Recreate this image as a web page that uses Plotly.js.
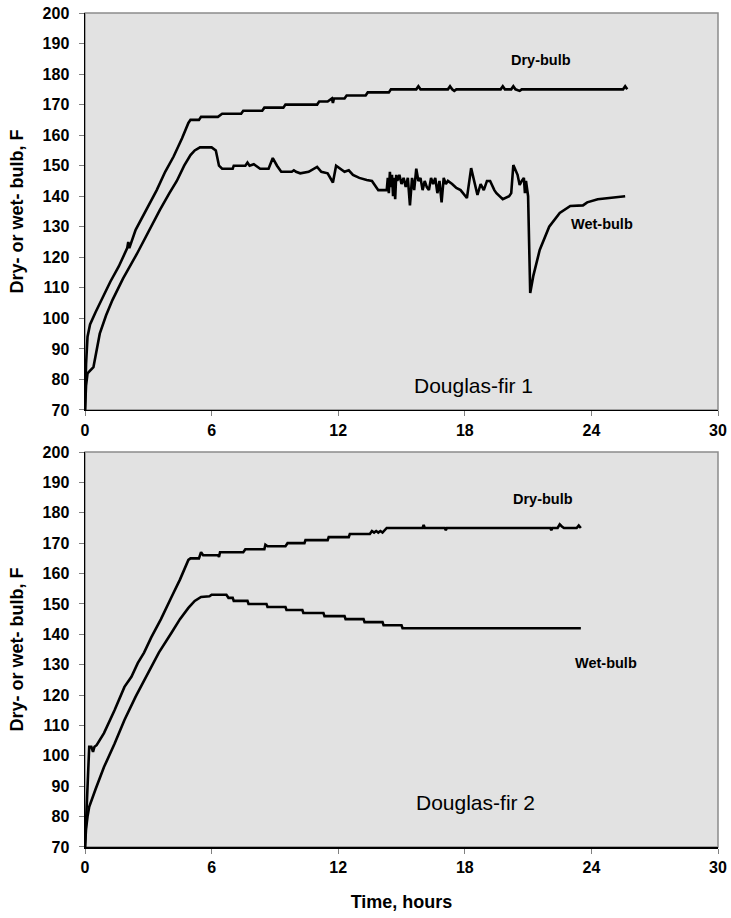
<!DOCTYPE html>
<html><head><meta charset="utf-8">
<script src="https://cdn.plot.ly/plotly-3.0.1.min.js"></script>
<style>body{margin:0;padding:0;background:#fff}#chart{width:731px;height:918px}</style>
</head><body><div id="chart"></div>
<script>
// ---- Douglas-fir 1 ----
const df1DryX = [0,0.05,0.12,0.24,0.5,0.85,1.2,1.6,2.0,2.05,2.1,2.4,2.7,3.0,3.4,3.8,4.2,4.6,4.9,5.0,5.4,5.5,6.3,6.5,7.4,7.5,8.4,8.5,9.4,9.5,11.0,11.1,11.5,11.7,11.75,11.8,12.3,12.4,13.3,13.4,14.4,14.5,15.7,15.8,15.9,17.2,17.3,17.4,17.5,17.6,19.7,19.8,19.9,20.2,20.3,20.4,20.6,20.7,25.5,25.6,25.7];
const df1DryY = [70,85,94,98,102,107,112,117,123,125,123,129,133,137,142,148,153,159,164,165,165,166,166,167,167,168,168,169,169,170,170,171,171,172,170.5,172,172,173,173,174,174,175,175,176,175,175,176,175,174.5,175,175,176,175,175,176,175,174.5,175,175,176,175];
const df1WetX = [0,0.05,0.12,0.24,0.4,0.7,1.0,1.3,1.8,2.45,3.0,3.55,4.0,4.35,4.7,5.0,5.2,5.45,6.0,6.2,6.35,6.5,7.0,7.05,7.6,7.7,7.8,8.0,8.1,8.3,8.7,8.9,9.1,9.3,9.8,9.9,10.0,10.2,10.6,11.0,11.2,11.5,11.75,11.9,12.3,12.5,12.7,13.0,13.35,13.6,13.9,14.3,14.35,14.4,14.45,14.5,14.55,14.6,14.65,14.7,14.75,14.8,14.9,15.0,15.1,15.2,15.3,15.4,15.5,15.6,15.7,15.8,15.9,16.0,16.1,16.2,16.3,16.4,16.5,16.6,16.7,16.8,16.9,17.0,17.1,17.2,17.4,17.6,17.8,18.1,18.3,18.5,18.6,18.75,18.9,19.05,19.2,19.4,19.5,19.8,20.1,20.2,20.3,20.5,20.6,20.7,20.8,20.85,20.9,21.0,21.1,21.25,21.55,22.0,22.5,23.0,23.6,23.8,24.3,25.6];
const df1WetY = [70,78,82,83,84,95,101,106,113,121,128.5,135.5,141,145,150,153.5,155,156,156,155,150,149,149,150,150,151,150,150.5,150,149,149,152.5,150,148,148,148.5,148,147.5,148,149.6,148,147.5,144.5,150,148,148.5,147,146,145.3,145,142,142,146,141,148,143,147,140,146,139,147,145,147,144,146,143,146,137,146,142,149,145,146,142,145,143,142,146,144,146,141,145,138,146,144,145,144,142.7,142,139.4,149.2,143,140.4,144,142,145,145,142,141,139,140,141,150.2,147,143.7,145,146,141,145,140,108.3,114,122.4,130,134.5,136.8,137,138,139,140,140];
// ---- Douglas-fir 2 ----
const df2DryX = [0,0.1,0.2,0.3,0.38,0.45,0.55,0.9,1.4,1.87,2.2,2.5,2.8,3.14,3.6,4.1,4.5,4.9,5.0,5.4,5.5,5.6,6.3,6.35,6.4,7.5,7.55,7.6,8.5,8.55,8.65,9.5,9.6,10.4,10.45,11.5,11.55,12.5,12.55,13.5,13.6,13.7,13.8,13.9,14.0,14.1,14.3,16.0,16.05,16.1,17.05,17.1,17.15,22.05,22.1,22.15,22.4,22.5,22.6,22.7,23.3,23.4,23.5];
const df2DryY = [70,90,103,103,101.3,103,103.5,107.5,115,122.7,126,130.5,134,139,145,152.3,158,164.5,165,165,167,166,166,165.5,167,167,167.6,168,168,169.5,169,169,170,170,171,171,172,172,173,173,174,173.5,174,173.5,174,173.5,175,175,176,175,175,174.3,175,175,174.3,175,175,176.2,175.5,175,175,175.8,175];
const df2WetX = [0,0.05,0.12,0.2,0.5,0.9,1.4,1.87,2.4,3.0,3.5,4.1,4.5,4.9,5.2,5.5,5.9,6.0,6.7,6.8,7.0,7.05,7.7,7.75,8.6,8.65,9.5,9.55,10.3,10.35,11.3,11.35,12.3,12.35,13.2,13.25,14.1,14.15,15.0,15.05,23.5];
const df2WetY = [70,76,80,83.2,89,96.3,104,111.8,119.5,127.3,134,140.5,145,148.7,151,152.3,152.5,153,153,152,152,151,151,150,150,149,149,148,148,147,147,146,146,145,145,144,144,143,143,142,142];
// ---- axes / labels ----
const xTicks = [0,6,12,18,24,30];
const yTicks = [70,80,90,100,110,120,130,140,150,160,170,180,190,200];
const seriesNames = ['Dry-bulb','Wet-bulb'];
const panelNames = ['Douglas-fir 1','Douglas-fir 2'];
const yTitle = 'Dry- or wet- bulb, F';
const xTitle = 'Time, hours';

const FONT = 'Liberation Sans, Arial, sans-serif';
const lineStyle = {color:'#000000', width:2.6};
function tr(x,y,name,xa,ya){return {x:x,y:y,name:name,xaxis:xa,yaxis:ya,type:'scatter',mode:'lines',line:lineStyle,hoverinfo:'skip',showlegend:false};}
const data = [
  tr(df1DryX,df1DryY,seriesNames[0],'x','y'),
  tr(df1WetX,df1WetY,seriesNames[1],'x','y'),
  tr(df2DryX,df2DryY,seriesNames[0],'x2','y2'),
  tr(df2WetX,df2WetY,seriesNames[1],'x2','y2')
];
const tickFont = {family:FONT,size:16,color:'#000000',weight:'bold'};
const titleFont = {family:FONT,size:18,weight:'bold',color:'#000'};
const labelFont = {family:FONT,size:14.5,weight:'bold',color:'#000'};
const panelFont = {family:FONT,size:21,color:'#000'};
function xax(anchor){return {domain:[0,1],anchor:anchor,range:[0,30],tickvals:xTicks,ticktext:xTicks.map(String),ticks:'outside',ticklen:5,tickcolor:'#808080',tickwidth:1,showline:true,linecolor:'#000000',linewidth:1.5,showgrid:false,zeroline:false,tickfont:tickFont,fixedrange:true};}
function yax(anchor,dom){return {domain:dom,anchor:anchor,range:[70,200],tickvals:yTicks,ticks:'outside',ticklen:5,tickcolor:'#808080',tickwidth:1,showline:true,linecolor:'#000000',linewidth:1.5,showgrid:false,zeroline:false,tickfont:tickFont,ticklabelstandoff:6,fixedrange:true};}
function ovx(anchor,over){return {overlaying:over,anchor:anchor,range:[0,30],tickvals:xTicks,ticks:'inside',ticklen:5,tickcolor:'#808080',tickwidth:1,showticklabels:false,showgrid:false,zeroline:false,showline:false,fixedrange:true};}
function ovy(anchor,over){return {overlaying:over,anchor:anchor,range:[70,200],tickvals:yTicks,ticks:'inside',ticklen:5,tickcolor:'#808080',tickwidth:1,showticklabels:false,showgrid:false,zeroline:false,showline:false,fixedrange:true};}
const topDom=[0.524,1], botDom=[0,0.4736];
function yTitleAnn(yref){return {xref:'paper',yref:yref,x:0,y:0.5,xanchor:'center',yanchor:'middle',xshift:-68,textangle:-90,text:yTitle,showarrow:false,font:titleFont};}
const layout = {
  width:731,height:918,
  margin:{l:85,r:13,t:13,b:71},
  paper_bgcolor:'#ffffff',plot_bgcolor:'#e2e2e2',
  font:{family:FONT,color:'#000'},
  xaxis:xax('y'),
  yaxis:yax('x',topDom),
  xaxis2:Object.assign(xax('y2'),{title:{text:xTitle,font:titleFont,standoff:20}}),
  yaxis2:yax('x2',botDom),
  xaxis3:ovx('y','x'), yaxis3:Object.assign(ovy('x','y'),{domain:topDom}),
  xaxis4:ovx('y2','x2'), yaxis4:Object.assign(ovy('x2','y2'),{domain:botDom}),
  shapes:[
    {type:'rect',xref:'x domain',yref:'y domain',x0:0,x1:1,y0:0,y1:1,line:{color:'#8c8c8c',width:1.5},layer:'below'},
    {type:'rect',xref:'x2 domain',yref:'y2 domain',x0:0,x1:1,y0:0,y1:1,line:{color:'#8c8c8c',width:1.5},layer:'below'}
  ],
  annotations:[
    yTitleAnn('y domain'), yTitleAnn('y2 domain'),
    {xref:'x',yref:'y',x:21.6,y:184.6,text:seriesNames[0],showarrow:false,font:labelFont},
    {xref:'x',yref:'y',x:24.5,y:131,text:seriesNames[1],showarrow:false,font:labelFont},
    {xref:'x',yref:'y',x:18.4,y:78,text:panelNames[0],showarrow:false,font:panelFont},
    {xref:'x2',yref:'y2',x:21.7,y:184.5,text:seriesNames[0],showarrow:false,font:labelFont},
    {xref:'x2',yref:'y2',x:24.7,y:130.5,text:seriesNames[1],showarrow:false,font:labelFont},
    {xref:'x2',yref:'y2',x:18.5,y:84.8,text:panelNames[1],showarrow:false,font:panelFont}
  ]
};
Plotly.newPlot('chart',data,layout,{displayModeBar:false,staticPlot:true});
</script></body></html>
